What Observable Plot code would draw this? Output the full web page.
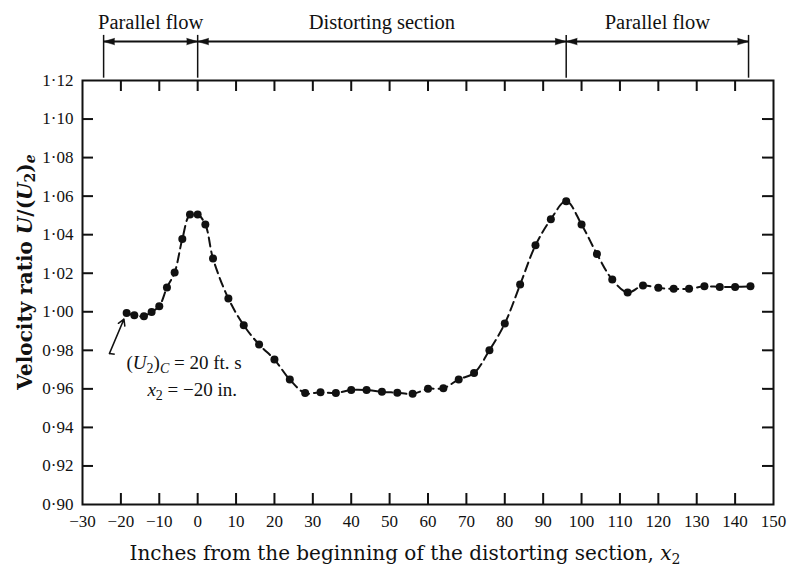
<!DOCTYPE html>
<html><head><meta charset="utf-8">
<script src="https://cdn.jsdelivr.net/npm/d3@7"></script>
<script src="https://cdn.jsdelivr.net/npm/@observablehq/plot@0.6"></script>
<style>body{margin:0;background:#fff} svg{display:block}</style>
</head><body><div id="chart"></div>
<script>
// ---- data ----
const xInches = [-18.5, -16.5, -14, -12, -10, -8, -6, -4, -2, 0, 2, 4, 8, 12, 16, 20, 24, 28, 32, 36, 40, 44, 48, 52, 56, 60, 64, 68, 72, 76, 80, 84, 88, 92, 96, 100, 104, 108, 112, 116, 120, 124, 128, 132, 136, 140, 144];
const velocityRatio = [0.9994, 0.9982, 0.9977, 0.9999, 1.0029, 1.0126, 1.0204, 1.0377, 1.0505, 1.0505, 1.0453, 1.0276, 1.0069, 0.9930, 0.9830, 0.9752, 0.9648, 0.9578, 0.9583, 0.9578, 0.9594, 0.9594, 0.9585, 0.9580, 0.9574, 0.9600, 0.9603, 0.9649, 0.9682, 0.9800, 0.9939, 1.0141, 1.0345, 1.0480, 1.0574, 1.0453, 1.0300, 1.0167, 1.0100, 1.0136, 1.0124, 1.0119, 1.0119, 1.0132, 1.0129, 1.0129, 1.0132];
const xTicks = [-30, -20, -10, 0, 10, 20, 30, 40, 50, 60, 70, 80, 90, 100, 110, 120, 130, 140, 150];
const yTicks = [0.90, 0.92, 0.94, 0.96, 0.98, 1.00, 1.02, 1.04, 1.06, 1.08, 1.10, 1.12];
const sectionBounds = [-24.5, 0, 96, 143.5];
const sectionLabels = ["Parallel flow", "Distorting section", "Parallel flow"];
const refStart = {x: -23, y: 0.9783};
const refEnd = {x: -19.2, y: 0.9962};

const points = xInches.map((x, i) => ({x, y: velocityRatio[i]}));
const sections = sectionLabels.map((label, i) => ({label, x1: sectionBounds[i], x2: sectionBounds[i + 1], xm: (sectionBounds[i] + sectionBounds[i + 1]) / 2}));
const heads = sections.flatMap(s => [{x: s.x1, dir: -1}, {x: s.x2, dir: 1}]);

const W = 789, H = 571, mL = 82, mR = 16, mT = 80, mB = 67;
const pw = W - mL - mR, ph = H - mT - mB, tk = 11;
const arrowY = 1.1402, labelY = 1.1500, vTop = 1.1434, vBot = 1.1212;

const fmtY = d => d.toFixed(2).replace(".", "\u00B7");
const fmtX = d => d < 0 ? "\u2212" + (-d) : String(d);

const plot = Plot.plot({
  width: W, height: H,
  marginLeft: mL, marginRight: mR, marginTop: mT, marginBottom: mB,
  style: {fontFamily: "Liberation Serif", fontSize: "17px", color: "#111", background: "#fff", overflow: "visible"},
  x: {domain: [-30, 150]},
  y: {domain: [0.90, 1.12]},
  marks: [
    Plot.frame({strokeWidth: 2}),
    Plot.tickX(xTicks.slice(1, -1), {x: d => d, insetTop: ph - tk, strokeWidth: 2}),
    Plot.tickX(xTicks.slice(1, -1), {x: d => d, insetBottom: ph - tk, strokeWidth: 2}),
    Plot.tickY(yTicks.slice(1, -1), {y: d => d, insetRight: pw - tk, strokeWidth: 2}),
    Plot.tickY(yTicks.slice(1, -1), {y: d => d, insetLeft: pw - tk, strokeWidth: 2}),
    Plot.axisX(xTicks, {anchor: "bottom", tickSize: 0, tickPadding: 10, tickFormat: fmtX, label: null, fontSize: 17}),
    Plot.axisY(yTicks, {anchor: "left", tickSize: 0, tickPadding: 9, tickFormat: fmtY, label: null, fontSize: 17}),
    Plot.line(points, {x: "x", y: "y", curve: "catmull-rom", stroke: "#111", strokeWidth: 2, strokeDasharray: "9,5"}),
    Plot.dot(points, {x: "x", y: "y", r: 4, fill: "#111", stroke: "none"}),
    // reference arrow
    Plot.arrow([{}], {x1: refStart.x, y1: refStart.y, x2: refEnd.x, y2: refEnd.y, headLength: 7, strokeWidth: 1.5, stroke: "#111"}),
    Plot.link([{}], {x1: refStart.x, y1: refStart.y, x2: refStart.x + 1.4, y2: refStart.y - 0.0004, strokeWidth: 1.5, stroke: "#111"}),
    // section annotations
    Plot.ruleX(sectionBounds, {x: d => d, y1: vBot, y2: vTop, strokeWidth: 1.5, stroke: "#111", clip: false}),
    Plot.link(sections, {x1: "x1", x2: "x2", y1: arrowY, y2: arrowY, strokeWidth: 2, stroke: "#111", clip: false}),
    Plot.vector(heads, {x: "x", y: arrowY, length: 11, r: 3.2, rotate: d => d.dir > 0 ? 90 : -90, anchor: "end", shape: "spike", fill: "#111", stroke: "#111", strokeWidth: 0.5, clip: false}),
    Plot.text(sections, {x: "xm", y: labelY, text: "label", fontSize: 20.5, fill: "#111", clip: false})
  ]
});
document.getElementById("chart").appendChild(plot);

const svg = d3.select(plot);
const sx = plot.scale("x"), sy = plot.scale("y");

// y-axis title
const yl = svg.append("text")
  .attr("transform", "translate(26,272) rotate(-90)")
  .attr("text-anchor", "middle").attr("dominant-baseline", "middle")
  .style("font-family", "DejaVu Serif").style("font-size", "20px").style("font-weight", "bold").attr("fill", "#111");
yl.append("tspan").text("Velocity ratio ");
yl.append("tspan").style("font-style", "italic").text("U");
yl.append("tspan").text("/(");
yl.append("tspan").style("font-style", "italic").text("U");
yl.append("tspan").attr("dy", 5).style("font-size", "14px").text("2");
yl.append("tspan").attr("dy", -5).text(")");
yl.append("tspan").attr("dy", 5).style("font-size", "14px").style("font-style", "italic").text("e");

// x-axis title
const xl = svg.append("text")
  .attr("x", 405).attr("y", 560)
  .attr("text-anchor", "middle")
  .style("font-family", "DejaVu Serif").style("font-size", "20px").attr("fill", "#111");
xl.append("tspan").text("Inches from the beginning of the distorting section, ");
xl.append("tspan").style("font-style", "italic").text("x");
xl.append("tspan").attr("dy", 4).style("font-size", "14px").text("2");

// annotation
const a1 = svg.append("text")
  .attr("x", sx.apply(11.6)).attr("y", sy.apply(0.9734) + 6)
  .attr("text-anchor", "end")
  .style("font-family", "Liberation Serif").style("font-size", "19px").attr("fill", "#111");
a1.append("tspan").text("(");
a1.append("tspan").style("font-style", "italic").text("U");
a1.append("tspan").attr("dy", 4).style("font-size", "14px").text("2");
a1.append("tspan").attr("dy", -4).text(")");
a1.append("tspan").attr("dy", 4).style("font-size", "14px").style("font-style", "italic").text("C");
a1.append("tspan").attr("dy", -4).text(" = 20 ft. s");

const a2 = svg.append("text")
  .attr("x", sx.apply(10.4)).attr("y", sy.apply(0.9592) + 6)
  .attr("text-anchor", "end")
  .style("font-family", "Liberation Serif").style("font-size", "19px").attr("fill", "#111");
a2.append("tspan").style("font-style", "italic").text("x");
a2.append("tspan").attr("dy", 4).style("font-size", "14px").text("2");
a2.append("tspan").attr("dy", -4).text(" = \u221220 in.");
</script>
</body></html>
